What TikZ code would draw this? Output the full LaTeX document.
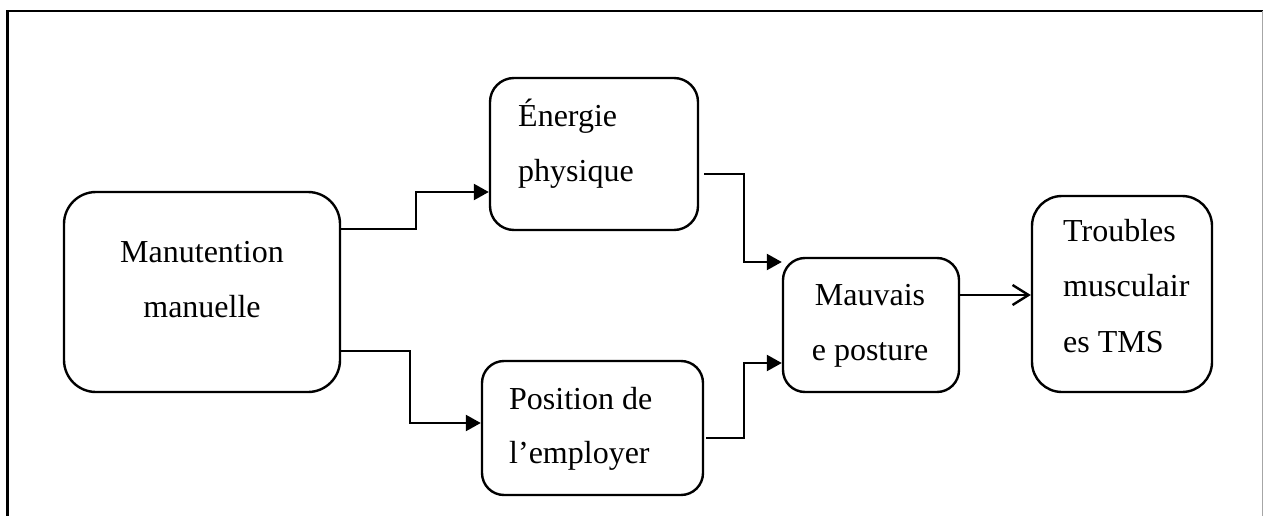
\documentclass[tikz,border=0pt]{standalone}
\usepackage{fontspec}
\setmainfont{Liberation Serif}
\usetikzlibrary{arrows.meta}
\begin{document}
\begin{tikzpicture}[x=1pt,y=-1pt,
  box/.style={draw=black, line width=2.4pt, rounded corners=#1, inner sep=0pt},
  box/.default=24pt,
  lbl/.style={inner sep=0pt, font=\fontsize{32}{55}\selectfont},
  conn/.style={draw=black, line width=2.4pt, -{Triangle[length=15pt,width=16pt]}},
  openconn/.style={draw=black, line width=2.4pt, -{Straight Barb[length=16pt,width=20pt,line width=2.4pt]}}]
\useasboundingbox (0,0) rectangle (1263,516);
% page frame, open at the bottom
\draw[line width=2.4pt, line cap=rect] (7.5,516) -- (7.5,11) -- (1262,11);
\draw[line width=1pt, black!35] (1262,11) -- (1262,516);

% boxes
\node[box=32pt, minimum width=276pt, minimum height=200pt] (man) at (202,292) {};
\node[box=24pt, minimum width=208pt, minimum height=152pt] (en) at (594,154) {};
\node[box=22pt, minimum width=221pt, minimum height=134pt] (pos) at (592.5,428) {};
\node[box=22pt, minimum width=176pt, minimum height=134pt] (mau) at (871,325) {};
\node[box=30pt, minimum width=180pt, minimum height=196pt] (tms) at (1122,294) {};

% labels
\node[lbl, anchor=base] (man1) at (202,262) {Manutention};
\node[lbl, anchor=base] (man2) at (202,317) {manuelle};
\node[lbl, anchor=base west] (en1) at (518,127) {Énergie};
\node[lbl, anchor=base west] (en2) at (518,181) {physique};
\node[lbl, anchor=base west] (pos1) at (509,409) {Position de};
\node[lbl, anchor=base west] (pos2) at (509,463) {l’employer};
\node[lbl, anchor=base] (mau1) at (870,305) {Mauvais};
\node[lbl, anchor=base] (mau2) at (870,360) {e posture};
\node[lbl, anchor=base west] (tms1) at (1063,241) {Troubles};
\node[lbl, anchor=base west] (tms2) at (1063,296) {musculair};
\node[lbl, anchor=base west] (tms3) at (1063,352) {es TMS};

% connectors
\draw[conn] ([yshift=63pt]man.east) -- ++(75,0) |- ([yshift=-38pt]en.west);
\draw[conn] ([yshift=-59pt]man.east) -- ++(69,0) |- ([yshift=5pt]pos.west);
\draw[conn] ([xshift=5pt,yshift=-20pt]en.east) -- ++(40,0) |- ([yshift=63pt]mau.west);
\draw[conn] ([xshift=2pt,yshift=-10pt]pos.east) -- ++(38,0) |- ([yshift=-38pt]mau.west);
\draw[openconn] ([yshift=30pt]mau.east) -- ([yshift=-1pt]tms.west);
\end{tikzpicture}
\end{document}
